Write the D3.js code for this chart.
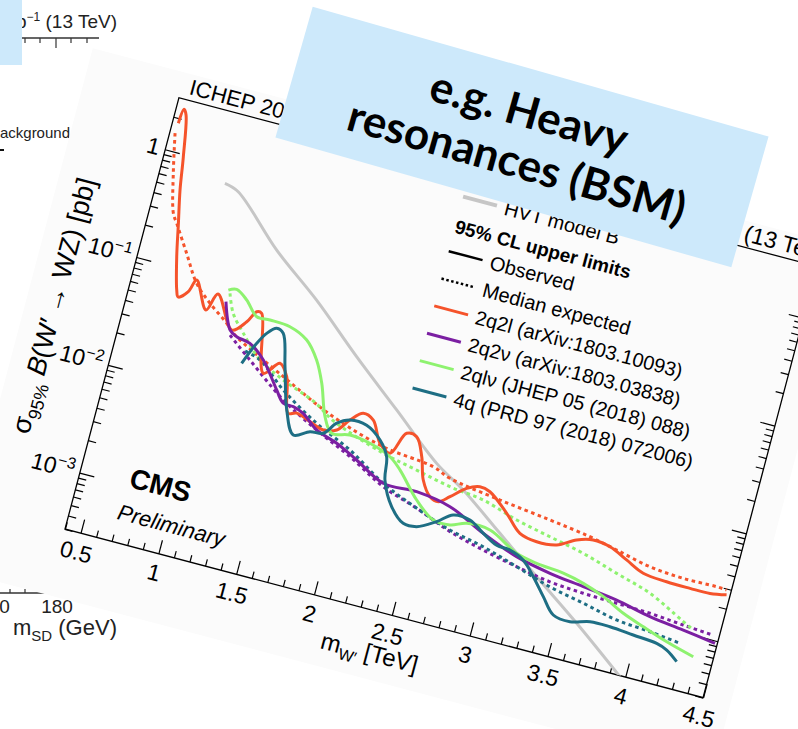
<!DOCTYPE html>
<html><head><meta charset="utf-8">
<script src="https://cdn.jsdelivr.net/npm/d3@7"></script>
<style>body{margin:0;background:#fff;} svg{display:block;}</style>
</head><body>
<svg id="c" width="798" height="729"></svg>
<script>
// ---------- data ----------
const xDomain = [0.4, 4.5];
const yDomain = [3e-4, 3];
const xMajor = [0.5,1,1.5,2,2.5,3,3.5,4,4.5];
const xLabels = ["0.5","1","1.5","2","2.5","3","3.5","4","4.5"];
const yMajor = [1e-3,1e-2,1e-1,1];
const yLabelBase = ["10","10","10","1"];
const yLabelExp = ["\u22123","\u22122","\u22121",""];

const seriesNames = ["2q2l (arXiv:1803.10093)","2q2\u03bd (arXiv:1803.03838)","2ql\u03bd (JHEP 05 (2018) 088)","4q (PRD 97 (2018) 072006)"];
const seriesColors = ["#f5532b","#7b1fa2","#8ef26f","#1e6e84"];

const obs2q2lX = [0.437,0.449,0.470,0.520,0.553,0.596,0.639,0.692,0.711,0.764,0.796,0.899,0.946,1.086,1.163,1.207,1.239,1.344,1.428,1.490,1.557,1.607,1.794,1.875,1.939,2.008,2.079,2.156,2.232,2.300,2.366,2.428,2.474,2.541,2.599,2.661,2.748,2.825,2.893,3.028,3.139,3.253,3.379,3.490,3.590,3.702,3.822,3.943,4.097,4.248,4.376,4.478];
const obs2q2lY = [1.80,2.45,2.21,0.946,0.478,0.244,0.124,0.0638,0.056,0.0657,0.0867,0.050,0.0733,0.0384,0.049,0.0631,0.0628,0.0191,0.0255,0.0202,0.0098,0.0103,0.00846,0.00908,0.0119,0.0146,0.0134,0.00875,0.00755,0.0123,0.0121,0.00834,0.00528,0.00392,0.00371,0.00436,0.00562,0.00623,0.00594,0.00422,0.00303,0.0028,0.00292,0.00358,0.00391,0.00373,0.00313,0.00262,0.0025,0.00248,0.00249,0.00264];
const exp2q2lX = [0.433,0.486,0.550,0.586,0.693,0.801,0.913,1.045,1.100,1.469,1.833,2.182,2.514,2.631,2.967,3.299,3.565,3.747,3.973,4.192,4.406,4.470];
const exp2q2lY = [1.45,0.645,0.29,0.242,0.140,0.081,0.0584,0.0428,0.0363,0.0199,0.0116,0.0083,0.00726,0.00629,0.00531,0.00464,0.0041,0.00362,0.00309,0.00292,0.00295,0.00291];

const obs2q2nX = [1.006,1.076,1.126,1.216,1.323,1.451,1.511,1.577,1.647,1.754,1.896,2.042,2.239,2.453,2.677,2.919,3.156,3.383,3.604,3.826,4.052,4.274,4.485];
const obs2q2nY = [0.0656,0.0381,0.0345,0.0324,0.0249,0.0147,0.0117,0.0115,0.0106,0.00817,0.00696,0.00554,0.00401,0.00404,0.00357,0.0025,0.00187,0.0016,0.00146,0.00133,0.00114,0.00104,0.000944];
const exp2q2nX = [1.083,1.243,1.506,1.754,1.997,2.244,2.480,2.717,2.945,3.173,3.396,3.614,3.831,4.047,4.265,4.462];
const exp2q2nY = [0.0344,0.0232,0.0125,0.00817,0.00571,0.00374,0.0029,0.00217,0.00179,0.00153,0.00135,0.00128,0.00125,0.00122,0.00115,0.0011];

const obs2qlnX = [1.002,1.051,1.128,1.215,1.300,1.430,1.552,1.643,1.711,1.784,1.849,1.962,2.095,2.237,2.319,2.466,2.598,2.706,2.804,2.954,3.151,3.287,3.463,3.599,3.741,3.887,4.029,4.193,4.376];
const obs2qlnY = [0.0838,0.0889,0.0757,0.0571,0.0574,0.0558,0.0467,0.033,0.0213,0.0111,0.00828,0.00881,0.0083,0.00705,0.0057,0.00342,0.0025,0.00248,0.0028,0.00277,0.002,0.00182,0.00172,0.00156,0.00133,0.00106,0.0009,0.000755,0.000644];
const exp2qlnX = [1.017,1.068,1.161,1.303,1.474,1.702,1.835,2.192,2.418,2.645,2.866,3.099,3.325,3.551,3.784,4.015,4.252,4.334];
const exp2qlnY = [0.0792,0.054,0.0382,0.0245,0.0186,0.0140,0.0108,0.0073,0.00622,0.00532,0.00486,0.00389,0.00332,0.00284,0.00227,0.00182,0.00125,0.0011];

const obs4qX = [1.198,1.257,1.301,1.353,1.400,1.464,1.543,1.622,1.717,1.799,1.864,1.939,2.047,2.151,2.217,2.244,2.327,2.422,2.508,2.620,2.709,2.818,2.919,3.018,3.106,3.201,3.288,3.380,3.469,3.580,3.701,3.828,3.981,4.135,4.206,4.284];
const obs4qY = [0.0208,0.0336,0.0432,0.0504,0.0472,0.0244,0.0104,0.00653,0.00762,0.00792,0.0104,0.0119,0.0117,0.00934,0.00693,0.00431,0.00262,0.002,0.00201,0.00247,0.00308,0.00304,0.0025,0.00212,0.00206,0.00181,0.00137,0.00097,0.000708,0.000676,0.000752,0.000755,0.000724,0.000694,0.00064,0.000535];
const exp4qX = [1.200,1.303,1.491,1.744,1.986,2.239,2.480,2.713,2.940,3.173,3.404,3.631,3.857,4.077,4.275];
const exp4qY = [0.027,0.0245,0.0152,0.00933,0.00653,0.00401,0.0029,0.00224,0.00191,0.00153,0.00122,0.00105,0.000895,0.000845,0.000785];

const hvtX = [0.812,0.905,1.229,1.548,1.878,2.203,2.528,2.730,3.019,3.309,3.623,3.967];
const hvtY = [0.693,0.629,0.24,0.109,0.0436,0.0186,0.0079,0.00534,0.00273,0.00139,0.000679,0.000294];

const obsSeries = [[obs2q2lX,obs2q2lY],[obs2q2nX,obs2q2nY],[obs2qlnX,obs2qlnY],[obs4qX,obs4qY]];
const expSeries = [[exp2q2lX,exp2q2lY],[exp2q2nX,exp2q2nY],[exp2qlnX,exp2qlnY],[exp4qX,exp4qY]];

// ---------- drawing ----------
const FONT = "'Liberation Sans', Arial, Helvetica, sans-serif";
const BLUE = "#cde9fb";
const svg = d3.select("#c");
svg.append("rect").attr("width",798).attr("height",729).attr("fill","#fff");

// background slide picture (partially hidden)
const bg = svg.append("g").attr("fill","#222").attr("font-family",FONT);
bg.append("text").attr("x",117).attr("y",28).attr("text-anchor","end").attr("font-size",19)
  .html('35.9 fb<tspan dy="-7" font-size="12">\u22121</tspan><tspan dy="7"> (13 TeV)</tspan>');
bg.append("line").attr("x1",0).attr("x2",99).attr("y1",38).attr("y2",38).attr("stroke","#333").attr("stroke-width",1.6);
[[25,5],[40,5],[56,10],[71,5],[87,5]].forEach(t=>bg.append("line").attr("x1",t[0]).attr("x2",t[0]).attr("y1",38).attr("y2",38+t[1]).attr("stroke","#333").attr("stroke-width",1.2));
bg.append("text").attr("x",70).attr("y",138).attr("text-anchor","end").attr("font-size",15).text("Background");
bg.append("line").attr("x1",0).attr("x2",4).attr("y1",150).attr("y2",150).attr("stroke","#111").attr("stroke-width",2);
bg.append("line").attr("x1",0).attr("x2",60).attr("y1",593).attr("y2",593).attr("stroke","#333").attr("stroke-width",1.4);
[10,25].forEach(t=>bg.append("line").attr("x1",t).attr("x2",t).attr("y1",593).attr("y2",589).attr("stroke","#333").attr("stroke-width",1.2));
bg.append("text").attr("x",-6).attr("y",613).attr("text-anchor","middle").attr("font-size",19).text("160");
bg.append("text").attr("x",57).attr("y",613).attr("text-anchor","middle").attr("font-size",19).text("180");
bg.append("text").attr("x",13).attr("y",635).attr("font-size",22)
  .html('m<tspan dy="6" font-size="15">SD</tspan><tspan dy="-6"> (GeV)</tspan>');
svg.append("rect").attr("x",0).attr("y",0).attr("width",22).attr("height",65).attr("fill",BLUE);

// rotated card with the CMS plot
const card = svg.append("g").attr("transform","translate(65,529) rotate(14.8)");
card.append("rect").attr("x",-96).attr("y",-472).attr("width",784).attr("height",540).attr("fill","#fbfbfb");

const W = 660, H = 446;
const x = d3.scaleLinear().domain(xDomain).range([0,W]);
const y = d3.scaleLog().domain(yDomain).range([0,-H]);

card.append("defs").append("clipPath").attr("id","clip")
  .append("rect").attr("x",0).attr("y",-H).attr("width",W).attr("height",H);

const xMinor = d3.range(4,46).filter(i=>i%5!==0).map(i=>i/10);
const yMinor = [];
[-4,-3,-2,-1,0].forEach(d=>{for(let k=2;k<=9;k++){const v=k*Math.pow(10,d); if(v>3e-4 && v<3) yMinor.push(v);}});

function styleAxis(g){
  g.select(".domain").remove();
  g.selectAll("line").attr("stroke","#000").attr("stroke-width",1.2);
  g.selectAll("text").attr("font-size",23).attr("font-family",FONT).attr("fill","#000");
}
card.append("g").call(d3.axisBottom(x).tickValues(xMajor).tickSize(-14).tickPadding(11).tickFormat((d,i)=>xLabels[i])).call(styleAxis);
card.append("g").call(d3.axisBottom(x).tickValues(xMinor).tickSize(-7).tickFormat(()=>"")).call(styleAxis);
const gy = card.append("g").call(d3.axisLeft(y).tickValues(yMajor).tickSize(-15).tickPadding(6).tickFormat(()=>"")).call(styleAxis);
gy.selectAll(".tick text").each(function(d,i){
  const t = d3.select(this);
  t.append("tspan").text(yLabelBase[i]);
  if (yLabelExp[i]) t.append("tspan").attr("dy","-0.6em").attr("font-size",16).text(yLabelExp[i]);
});
card.append("g").call(d3.axisLeft(y).tickValues(yMinor).tickSize(-8).tickFormat(()=>"")).call(styleAxis);
card.append("g").attr("transform",`translate(${W},0)`).call(d3.axisRight(y).tickValues(yMajor).tickSize(-15).tickFormat(()=>"")).call(styleAxis);
card.append("g").attr("transform",`translate(${W},0)`).call(d3.axisRight(y).tickValues(yMinor).tickSize(-8).tickFormat(()=>"")).call(styleAxis);

card.append("rect").attr("x",0).attr("y",-H).attr("width",W).attr("height",H)
  .attr("fill","none").attr("stroke","#000").attr("stroke-width",1.3);

const line = d3.line().x(d=>x(d[0])).y(d=>y(d[1])).curve(d3.curveCatmullRom.alpha(0.5));
const pts = (xs,ys)=>xs.map((v,i)=>[v,ys[i]]);
const curves = card.append("g").attr("clip-path","url(#clip)").attr("fill","none");
curves.append("path").attr("d",line(pts(hvtX,hvtY))).attr("stroke","#c6c6c6").attr("stroke-width",3);
expSeries.forEach((s,i)=>curves.append("path").attr("d",line(pts(s[0],s[1]))).attr("stroke",seriesColors[i]).attr("stroke-width",3).attr("stroke-dasharray","3.5,3.5"));
obsSeries.forEach((s,i)=>curves.append("path").attr("d",line(pts(s[0],s[1]))).attr("stroke",seriesColors[i]).attr("stroke-width",3));

// texts
const txt = card.append("g").attr("font-family",FONT).attr("fill","#000");
txt.append("text").attr("x",8).attr("y",-452).attr("font-size",22).text("ICHEP 2018");
txt.append("text").attr("x",W+8).attr("y",-452).attr("font-size",23).attr("text-anchor","end")
  .html('35.9 fb<tspan dy="-8" font-size="15">\u22121</tspan><tspan dy="8"> (13 TeV)</tspan>');
txt.append("text").attr("x",50).attr("y",-57).attr("font-size",28).attr("font-weight","bold").text("CMS");
txt.append("text").attr("x",47).attr("y",-23).attr("font-size",22).attr("font-style","italic").text("Preliminary");
txt.append("text").attr("x",326).attr("y",50).attr("font-size",24).attr("text-anchor","middle")
  .html('m<tspan dy="6" font-size="16">W\u2032</tspan><tspan dy="-6"> [TeV]</tspan>');
txt.append("text").attr("transform","translate(-59,-213) rotate(-90)").attr("font-size",27).attr("text-anchor","middle")
  .html('\u03c3<tspan dy="7" font-size="18">95%</tspan><tspan dy="-7"> </tspan><tspan font-style="italic">B</tspan>(W\u2032 \u2192 WZ) [pb]');

// legend
const lg = card.append("g").attr("font-family",FONT).attr("fill","#000");
const L0 = 300, L1 = 335, LT = 343;
lg.append("line").attr("x1",L0).attr("x2",L1).attr("y1",-423).attr("y2",-423).attr("stroke","#c6c6c6").attr("stroke-width",4);
lg.append("text").attr("x",LT).attr("y",-416).attr("font-size",20).text("HVT model B");
lg.append("text").attr("x",L0).attr("y",-386).attr("font-size",19).attr("font-weight","bold").text("95% CL upper limits");
lg.append("line").attr("x1",L0).attr("x2",L1).attr("y1",-366.6).attr("y2",-366.6).attr("stroke","#000").attr("stroke-width",2.5);
lg.append("text").attr("x",LT).attr("y",-359.6).attr("font-size",20).text("Observed");
lg.append("line").attr("x1",L0).attr("x2",L1).attr("y1",-338.3).attr("y2",-338.3).attr("stroke","#000").attr("stroke-width",2.5).attr("stroke-dasharray","2.5,2.5");
lg.append("text").attr("x",LT).attr("y",-331.3).attr("font-size",20).text("Median expected");
seriesNames.forEach((n,i)=>{
  const v = -310 + i*28.3;
  lg.append("line").attr("x1",L0).attr("x2",L1).attr("y1",v).attr("y2",v).attr("stroke",seriesColors[i]).attr("stroke-width",3);
  lg.append("text").attr("x",LT).attr("y",v+7).attr("font-size",20).text(n);
});

// overlay label box
const box = svg.append("g").attr("transform","translate(522,137) rotate(15.9)");
box.append("rect").attr("x",-237).attr("y",-68).attr("width",474).attr("height",136).attr("fill",BLUE);
box.append("text").attr("x",0).attr("y",-10).attr("text-anchor","middle").attr("font-family","Lato, 'Open Sans', sans-serif")
  .attr("font-weight","bold").attr("font-size",44).attr("fill","#000").text("e.g. Heavy");
box.append("text").attr("x",2).attr("y",41).attr("text-anchor","middle").attr("font-family","Lato, 'Open Sans', sans-serif")
  .attr("font-weight","bold").attr("font-size",44).attr("fill","#000").text("resonances (BSM)");
</script>
</body></html>
